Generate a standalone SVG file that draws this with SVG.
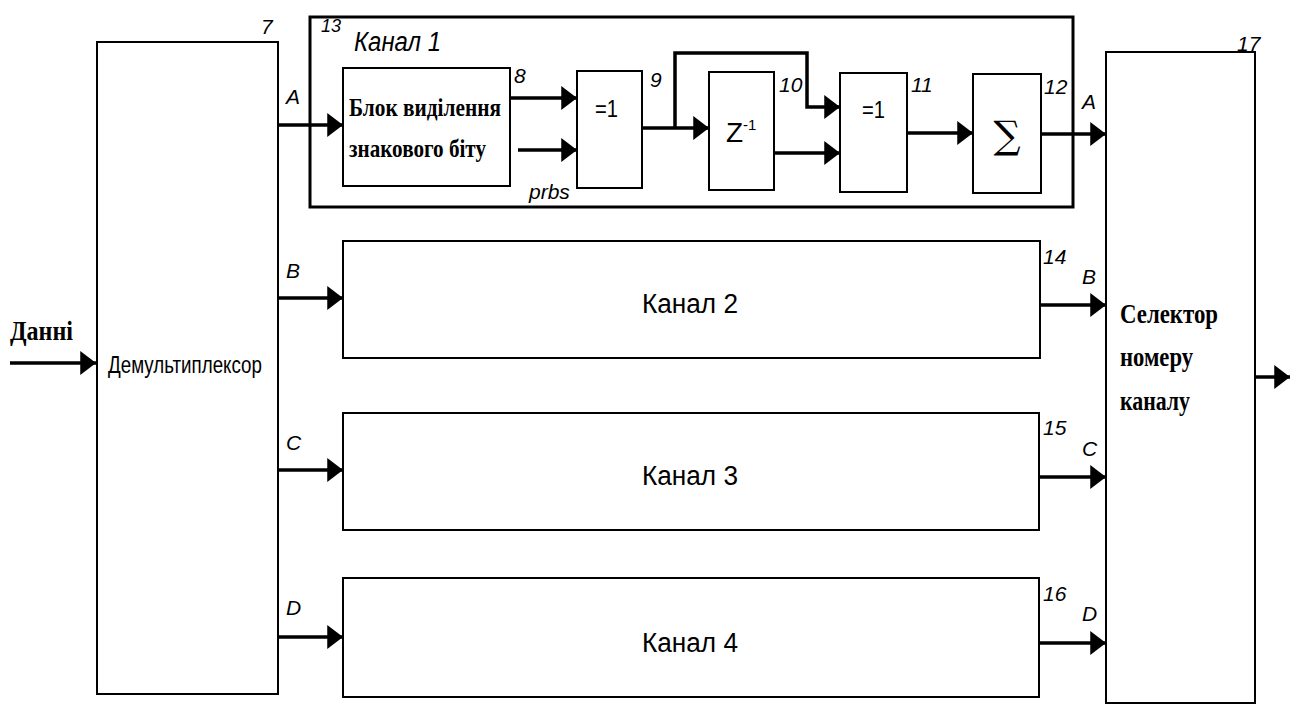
<svg xmlns="http://www.w3.org/2000/svg" width="1296" height="704" viewBox="0 0 1296 704">
<style>
.box{fill:#fff;stroke:#000;stroke-width:2}
.wire{fill:none;stroke:#000;stroke-width:3.5}
.lbl{font-family:"Liberation Sans",Arial,sans-serif;font-style:italic;fill:#000}
.sans{font-family:"Liberation Sans",Arial,sans-serif;fill:#000}
.serif{font-family:"Liberation Serif","Times New Roman",serif;font-weight:bold;fill:#000}
</style>
<defs>
<marker id="ah" markerWidth="4.6" markerHeight="6.8" refX="4.5" refY="3.4" orient="auto" markerUnits="strokeWidth">
<path d="M0,0 L4.5,3.4 L0,6.8 Z" fill="#000"/>
</marker>
</defs>
<rect width="1296" height="704" fill="#fff"/>

<g id="demux">
<rect class="box" x="97" y="42" width="181" height="652"/>
<text class="sans" x="108" y="373" font-size="23" textLength="154" lengthAdjust="spacingAndGlyphs">Демультиплексор</text>
<text class="lbl" x="261" y="34" font-size="21">7</text>
</g>

<g id="channel1">
<rect x="310" y="17" width="763" height="190" fill="none" stroke="#000" stroke-width="3"/>
<text class="lbl" x="321" y="32" font-size="18">13</text>
<text class="lbl" x="354" y="51" font-size="27" textLength="87" lengthAdjust="spacingAndGlyphs">Канал 1</text>
</g>

<g id="sign-block">
<rect class="box" x="343" y="68" width="167" height="118"/>
<text class="serif" x="349" y="116" font-size="25" textLength="152" lengthAdjust="spacingAndGlyphs">Блок виділення</text>
<text class="serif" x="349" y="157" font-size="25" textLength="137" lengthAdjust="spacingAndGlyphs">знакового біту</text>
<text class="lbl" x="514" y="83" font-size="21">8</text>
</g>

<g id="xor1">
<rect class="box" x="577" y="71" width="65" height="117"/>
<text class="sans" x="595" y="117" font-size="23" textLength="23" lengthAdjust="spacingAndGlyphs">=1</text>
<text class="lbl" x="650" y="87" font-size="21">9</text>
</g>

<g id="delay">
<rect class="box" x="709" y="72" width="65" height="118"/>
<text class="sans" x="726" y="142" font-size="28">Z<tspan font-size="15" dy="-12">-1</tspan></text>
<text class="lbl" x="779" y="92" font-size="21">10</text>
</g>

<g id="xor2">
<rect class="box" x="840" y="73" width="67" height="119"/>
<text class="sans" x="862" y="118" font-size="23" textLength="23" lengthAdjust="spacingAndGlyphs">=1</text>
<text class="lbl" x="911" y="92" font-size="21">11</text>
</g>

<g id="sum">
<rect class="box" x="973" y="74" width="68" height="119"/>
<text x="1007" y="148" font-family="DejaVu Serif,serif" font-size="38" text-anchor="middle">∑</text>
<text class="lbl" x="1044" y="94" font-size="21">12</text>
</g>

<g id="channel2">
<rect class="box" x="343" y="241" width="697" height="117"/>
<text class="sans" x="642" y="313" font-size="27" textLength="96" lengthAdjust="spacingAndGlyphs">Канал 2</text>
<text class="lbl" x="1043" y="264" font-size="21">14</text>
</g>

<g id="channel3">
<rect class="box" x="343" y="413" width="696" height="117"/>
<text class="sans" x="642" y="485" font-size="27" textLength="96" lengthAdjust="spacingAndGlyphs">Канал 3</text>
<text class="lbl" x="1043" y="435" font-size="21">15</text>
</g>

<g id="channel4">
<rect class="box" x="343" y="578" width="696" height="119"/>
<text class="sans" x="642" y="652" font-size="27" textLength="96" lengthAdjust="spacingAndGlyphs">Канал 4</text>
<text class="lbl" x="1043" y="601" font-size="21">16</text>
</g>

<g id="selector">
<rect class="box" x="1106" y="52" width="149" height="651"/>
<text class="serif" x="1120" y="323" font-size="28" textLength="98" lengthAdjust="spacingAndGlyphs">Селектор</text>
<text class="serif" x="1120" y="366" font-size="28" textLength="73" lengthAdjust="spacingAndGlyphs">номеру</text>
<text class="serif" x="1120" y="410" font-size="28" textLength="70" lengthAdjust="spacingAndGlyphs">каналу</text>
<text class="lbl" x="1237" y="51" font-size="21">17</text>
</g>

<g id="connectors">
<line class="wire" x1="10" y1="363" x2="96" y2="363" marker-end="url(#ah)"/>
<line class="wire" x1="278" y1="125" x2="343" y2="125" marker-end="url(#ah)"/>
<line class="wire" x1="510" y1="98" x2="577" y2="98" marker-end="url(#ah)"/>
<line class="wire" x1="518" y1="150" x2="577" y2="150" marker-end="url(#ah)"/>
<line class="wire" x1="642" y1="128" x2="709" y2="128" marker-end="url(#ah)"/>
<polyline class="wire" points="675,128 675,53 807,53 807,107 840,107" marker-end="url(#ah)"/>
<line class="wire" x1="774" y1="153" x2="840" y2="153" marker-end="url(#ah)"/>
<line class="wire" x1="907" y1="133" x2="973" y2="133" marker-end="url(#ah)"/>
<line class="wire" x1="1041" y1="134" x2="1106" y2="134" marker-end="url(#ah)"/>
<line class="wire" x1="278" y1="298" x2="343" y2="298" marker-end="url(#ah)"/>
<line class="wire" x1="278" y1="470" x2="343" y2="470" marker-end="url(#ah)"/>
<line class="wire" x1="278" y1="637" x2="343" y2="637" marker-end="url(#ah)"/>
<line class="wire" x1="1040" y1="305" x2="1106" y2="305" marker-end="url(#ah)"/>
<line class="wire" x1="1039" y1="477" x2="1106" y2="477" marker-end="url(#ah)"/>
<line class="wire" x1="1039" y1="643" x2="1106" y2="643" marker-end="url(#ah)"/>
<line class="wire" x1="1255" y1="377" x2="1290" y2="377" marker-end="url(#ah)"/>
<text class="lbl" x="286" y="104" font-size="21">A</text>
<text class="lbl" x="286" y="278" font-size="21">B</text>
<text class="lbl" x="286" y="450" font-size="21">C</text>
<text class="lbl" x="286" y="615" font-size="21">D</text>
<text class="lbl" x="1082" y="109" font-size="21">A</text>
<text class="lbl" x="1082" y="284" font-size="21">B</text>
<text class="lbl" x="1082" y="456" font-size="21">C</text>
<text class="lbl" x="1082" y="621" font-size="21">D</text>
<text class="lbl" x="529" y="199" font-size="21">prbs</text>
<text class="serif" x="10" y="340" font-size="28" textLength="63" lengthAdjust="spacingAndGlyphs">Данні</text>
</g>
</svg>
